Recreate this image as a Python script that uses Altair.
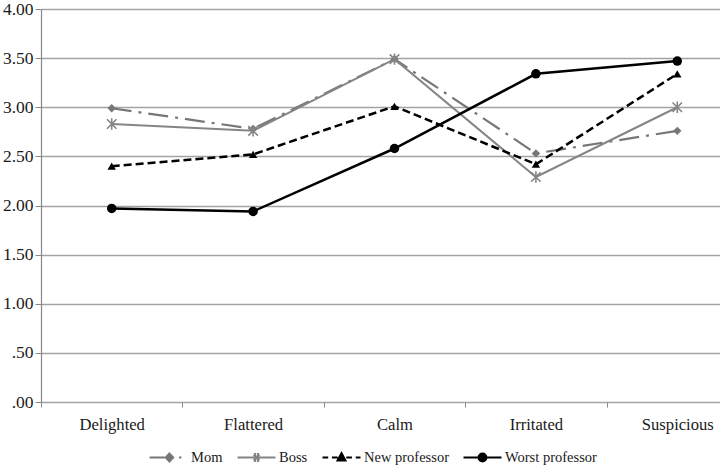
import altair as alt
import pandas as pd

emotions = ["Delighted", "Flattered", "Calm", "Irritated", "Suspicious"]
series_names = ["Mom", "Boss", "New professor", "Worst professor"]
mom = [2.99, 2.78, 3.49, 2.53, 2.76]
boss = [2.83, 2.76, 3.49, 2.29, 3.00]
new_prof = [2.40, 2.52, 3.01, 2.42, 3.34]
worst_prof = [1.97, 1.94, 2.58, 3.34, 3.47]
y_ticks = [0, 0.5, 1.0, 1.5, 2.0, 2.5, 3.0, 3.5, 4.0]

rows = []
for name, vals in zip(series_names, [mom, boss, new_prof, worst_prof]):
    for e, v in zip(emotions, vals):
        rows.append({"emotion": e, "series": name, "value": v})
df = pd.DataFrame(rows)

FONT = "Liberation Serif"
ASTERISK = "M-1,-1L1,1M-1,1L1,-1M0,-1.2L0,1.2"

styles = {
    "Mom": dict(color="#777777", dash=[20, 7, 3, 7], width=2.2, shape="diamond", size=70, filled=True),
    "Boss": dict(color="#858585", dash=None, width=2.0, shape=ASTERISK, size=90, filled=False),
    "New professor": dict(color="#000000", dash=[8, 4], width=2.5, shape="triangle-up", size=70, filled=True),
    "Worst professor": dict(color="#000000", dash=None, width=2.5, shape="circle", size=90, filled=True),
}

legend_paths = [
    "M-1,0H-0.2M0.05,-0.2L0.24,0L0.05,0.2L-0.14,0ZM0.55,0H0.68",
    "M-1,0H1M-0.15,-0.15L0.15,0.15M-0.15,0.15L0.15,-0.15M-0.08,-0.24V0.24M0.08,-0.24V0.24",
    "M-1,0H-0.7M-0.5,0H-0.2M0.25,0H0.55M0.75,0H1M0,-0.22L0.2,0.15L-0.2,0.15Z",
    "M-1,0H1M-0.2,0A0.2,0.2,0,1,0,0.2,0A0.2,0.2,0,1,0,-0.2,0Z",
]
legend_colors = [styles[n]["color"] for n in series_names]

x_enc = alt.X(
    "emotion:N",
    sort=emotions,
    scale=alt.Scale(range=[0, 707], paddingInner=0, paddingOuter=0),
    axis=alt.Axis(
        title=None, labelAngle=0, domain=False, grid=False, tickBand="extent",
        tickSize=5, tickColor="#888888", tickWidth=1,
        labelFont=FONT, labelFontSize=16.6, labelColor="#1a1a1a", labelPadding=9,
    ),
)
y_enc = alt.Y(
    "value:Q",
    scale=alt.Scale(domain=[0, 4], nice=False),
    axis=alt.Axis(
        title=None, values=y_ticks,
        labelExpr="datum.value < 1 ? substring(format(datum.value, '.2f'), 1) : format(datum.value, '.2f')",
        grid=True, gridColor="#a3a3a3", gridWidth=1.5,
        domainColor="#888888", domainWidth=1.2, tickColor="#888888", tickSize=6,
        labelFont=FONT, labelFontSize=17.5, labelColor="#1a1a1a", labelPadding=2,
    ),
)

base = alt.Chart(df)
layers = []
for name in series_names:
    s = styles[name]
    line_kw = dict(color=s["color"], strokeWidth=s["width"])
    if s["dash"]:
        line_kw["strokeDash"] = s["dash"]
    layers.append(
        base.transform_filter(alt.datum.series == name).mark_line(**line_kw).encode(x=x_enc, y=y_enc)
    )
for name in series_names:
    s = styles[name]
    if s["filled"]:
        pt = base.transform_filter(alt.datum.series == name).mark_point(
            shape=s["shape"], size=s["size"], filled=True, color=s["color"], opacity=1
        )
    else:
        pt = base.transform_filter(alt.datum.series == name).mark_point(
            shape=s["shape"], size=s["size"], filled=False, color=s["color"], strokeWidth=1.6, opacity=1
        )
    layers.append(pt.encode(x=x_enc, y=y_enc))

leg = alt.Legend(
    title=None, orient="none", legendX=107, legendY=428, direction="horizontal", columns=4,
    gridAlign="none",
    symbolSize=1444, symbolStrokeWidth=2.2, labelFont=FONT, labelFontSize=14.5,
    labelColor="#1a1a1a", labelOffset=2, columnPadding=10, padding=0,
)
legend_layer = base.transform_filter("false").mark_point(filled=True, opacity=1).encode(
    x=x_enc,
    y=y_enc,
    shape=alt.Shape("series:N", scale=alt.Scale(domain=series_names, range=legend_paths), legend=leg),
    fill=alt.Fill("series:N", scale=alt.Scale(domain=series_names, range=legend_colors), legend=leg),
    stroke=alt.Stroke("series:N", scale=alt.Scale(domain=series_names, range=legend_colors), legend=leg),
)
layers.append(legend_layer)

chart = alt.layer(*layers).properties(
    width=676, height=393,
    autosize=alt.AutoSizeParams(type="none"),
    padding={"left": 41, "top": 9, "right": 3, "bottom": 66},
    background="white",
).configure(
    font=FONT
).configure_view(
    strokeWidth=0
).configure_axis(
    labelFont=FONT
).configure_legend(
    labelFont=FONT
)

chart.save("out.html", embed_options={"renderer": "svg", "actions": False})
